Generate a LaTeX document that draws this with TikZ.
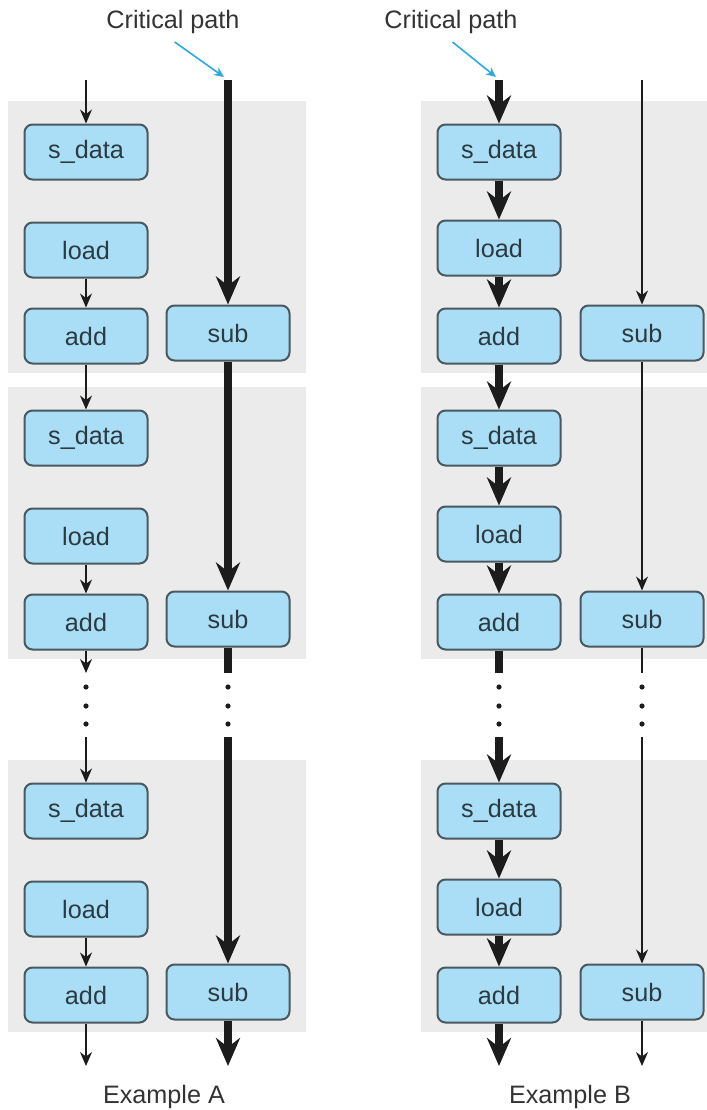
\documentclass[tikz,border=0pt]{standalone}
\usepackage{fontspec}
\setmainfont{Liberation Sans}
\usepackage{tikz}
\usetikzlibrary{arrows.meta,positioning}
\definecolor{panel}{HTML}{EBEBEB}
\definecolor{opfill}{HTML}{A9DEF6}
\definecolor{opline}{HTML}{4A5960}
\definecolor{optext}{HTML}{2C3A42}
\definecolor{labtext}{HTML}{333333}
\definecolor{ink}{HTML}{1C1C1C}
\definecolor{cpcyan}{HTML}{2AAAE0}

\begin{document}
\begin{tikzpicture}[x=0.5pt,y=-0.5pt,
  op/.style={draw=opline,line width=1pt,fill=opfill,rounded corners=4pt,inner sep=0pt,
             minimum width=61.5pt,minimum height=27.5pt,text=optext,font=\fontsize{12.6}{15}\selectfont},
  lab/.style={text=labtext,font=\fontsize{12.6}{15}\selectfont},
  ln/.style={draw=ink,line width=0.75pt,-{Stealth[length=7pt,width=6pt]}},
  hv/.style={draw=ink,line width=4pt,-{Stealth[length=14pt,width=12pt]}},
  cpa/.style={draw=cpcyan,line width=0.8pt,-{Stealth[length=5pt,width=4.5pt]}},
  dt/.style={circle,fill=ink,inner sep=0pt,minimum size=2.6pt}]
  \useasboundingbox (0,0) rectangle (707,1110);

  % shaded blocks and operations
  \foreach \b/\t in {1/101,2/387,3/760} {
    \fill[panel] (8,\t) rectangle (306,\t+272);
    \fill[panel] (421,\t) rectangle (707,\t+272);
    \node[op] (as\b) at (86,\t+51) {s\_data};
    \node[op] (al\b) at (86,\t+149) {load};
    \node[op] (aa\b) at (86,\t+235) {add};
    \node[op] (au\b) at (228,\t+232) {sub};
    \node[op] (bs\b) at (499,\t+51) {s\_data};
    \node[op] (bl\b) at (499,\t+147) {load};
    \node[op] (ba\b) at (499,\t+235) {add};
    \node[op] (bu\b) at (642,\t+232) {sub};
  }

  % labels
  \node[lab] (cpa) at (173,22) {Critical path};
  \node[lab] (cpb) at (451,22) {Critical path};
  \node[lab] (exa) at (164,1097) {Example A};
  \node[lab] (exb) at (570,1097) {Example B};

  % free ends of the flows
  \foreach \c/\x in {aL/86,aR/228,bL/499,bR/642} {
    \coordinate (\c0) at (\x,80);
    \coordinate (\c g1) at (\x,673);
    \coordinate (\c g2) at (\x,737);
    \coordinate (\c end) at (\x,1066);
    \foreach \y in {687,706,724}
      \node[dt] (d\c\y) at (\x,\y) {};
  }
  \coordinate (cpat) at (224,77);
  \coordinate (cpbt) at (496,77);

  \draw[cpa,shorten <=1pt] (cpa.south) -- (cpat);
  \draw[cpa,shorten <=1pt] (cpb.south) -- (cpbt);

  % Example A
  \draw[ln] (aL0) -- (as1);
  \foreach \a/\b in {al1/aa1,aa1/as2,al2/aa2,al3/aa3}
    \draw[ln] (\a) -- (\b);
  \draw[ln] (aa2) -- (aLg1);
  \draw[ln] (aLg2) -- (as3);
  \draw[ln] (aa3) -- (aLend);
  \draw[hv] (aR0) -- (au1);
  \draw[hv] (au1) -- (au2);
  \draw[hv,-] (au2) -- (aRg1);
  \draw[hv] (aRg2) -- (au3);
  \draw[hv] (au3) -- (aRend);

  % Example B
  \draw[hv] (bL0) -- (bs1);
  \foreach \a/\b in {bs1/bl1,bl1/ba1,ba1/bs2,bs2/bl2,bl2/ba2,bs3/bl3,bl3/ba3}
    \draw[hv] (\a) -- (\b);
  \draw[hv,-] (ba2) -- (bLg1);
  \draw[hv] (bLg2) -- (bs3);
  \draw[hv] (ba3) -- (bLend);
  \draw[ln] (bR0) -- (bu1);
  \draw[ln] (bu1) -- (bu2);
  \draw[ln,-] (bu2) -- (bRg1);
  \draw[ln] (bRg2) -- (bu3);
  \draw[ln] (bu3) -- (bRend);
\end{tikzpicture}
\end{document}
